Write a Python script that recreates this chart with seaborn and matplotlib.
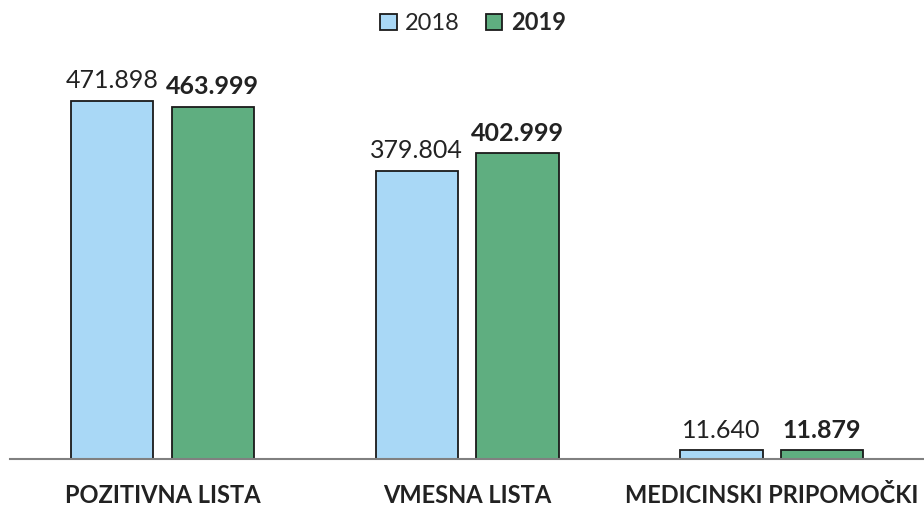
import pandas as pd
import matplotlib.pyplot as plt
import seaborn as sns

categories = ['POZITIVNA LISTA', 'VMESNA LISTA', 'MEDICINSKI PRIPOMOČKI']
values_2018 = [471898, 379804, 11640]
values_2019 = [463999, 402999, 11879]
years = ['2018', '2019']

df = pd.DataFrame({
    'cat': categories * 2,
    'val': values_2018 + values_2019,
    'year': [years[0]] * 3 + [years[1]] * 3,
})

sns.set_style('white')
plt.rcParams['font.family'] = ['Lato', 'DejaVu Sans']

fig = plt.figure(figsize=(9.24, 5.09), dpi=100)
ax = fig.add_axes([0.011, 0.098, 0.989, 0.804])

sns.barplot(data=df, x='cat', y='val', hue='year', palette=['#a9d8f6', '#5fae80'],
            saturation=1, edgecolor='#1a1a1a', linewidth=1.3, width=0.66, gap=0.18, ax=ax)

ax.set_xlim(-0.5, 2.5)
ax.set_ylim(0, 539000)

fmt = lambda v: f"{v:,.0f}".replace(',', '.')
for cont, weight in zip(ax.containers, ['normal', 'bold']):
    ax.bar_label(cont, labels=[fmt(v) for v in cont.datavalues], padding=6,
                 fontsize=18, fontweight=weight, color='#222222')

for s in ['left', 'top', 'right']:
    ax.spines[s].set_visible(False)
ax.spines['bottom'].set_color('#808080')
ax.spines['bottom'].set_linewidth(1.5)
ax.set_yticks([])
ax.set_xlabel('')
ax.set_ylabel('')
ax.tick_params(axis='x', length=0, pad=18)
for lbl in ax.get_xticklabels():
    lbl.set_fontsize(17)
    lbl.set_fontweight('bold')
    lbl.set_color('#222222')

leg = ax.legend(loc='center', bbox_to_anchor=(0.512, 0.955), bbox_transform=fig.transFigure,
                ncol=2, frameon=False, fontsize=17, handlelength=0.7, handleheight=0.7,
                handletextpad=0.35, columnspacing=1.1)
leg.get_texts()[1].set_fontweight('bold')

fig.savefig('out.png', dpi=100)
